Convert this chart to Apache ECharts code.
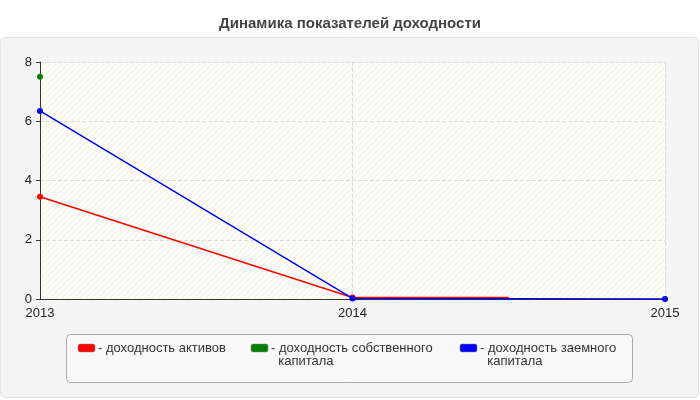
<!DOCTYPE html>
<html>
<head>
<meta charset="utf-8">
<script src="https://cdn.jsdelivr.net/npm/echarts@6/dist/echarts.min.js"></script>
<style>
  html, body { margin: 0; padding: 0; background: #fff; }
  #chart { width: 700px; height: 400px; }
</style>
</head>
<body>
<div id="chart"></div>
<script>
// data
const years = [2013, 2014, 2015];
const assetsYield = [[2013, 3.45], [2014, 0.05], [2014.5, 0.05]];
const equityYield = [[2013, 7.5]];
const debtYield = [[2013, 6.35], [2014, 0.02], [2015, 0.0]];
const seriesNames = [
    'доходность активов',
    'доходность собственного\nкапитала',
    'доходность заемного\nкапитала'
];
const seriesColors = ['#ff0000', '#008000', '#0000ff'];

// faint diagonal hatch for the plot background
function makeHatch() {
    const c = document.createElement('canvas');
    c.width = 6;
    c.height = 6;
    const ctx = c.getContext('2d');
    ctx.fillStyle = '#fdfdf8';
    ctx.fillRect(0, 0, 6, 6);
    ctx.strokeStyle = '#f1f1ec';
    ctx.lineWidth = 1;
    ctx.beginPath();
    ctx.moveTo(0, 6);
    ctx.lineTo(6, 0);
    ctx.stroke();
    return c;
}

// the legend is drawn by hand: the swatch sits on the first text line
const legendSlots = [78, 251, 460];
function legendItems() {
    const out = [];
    seriesNames.forEach((name, i) => {
        const x = legendSlots[i];
        out.push({
            type: 'rect',
            shape: { x: x, y: 344, width: 17, height: 8, r: 2 },
            style: { fill: seriesColors[i], stroke: '#888', lineWidth: 0.5 }
        });
        out.push({
            type: 'text',
            x: x + 20,
            y: 342,
            style: {
                text: '- ' + name.replace('\n', '\n  '),
                font: '13px "Liberation Sans"',
                fill: '#333',
                lineHeight: 13,
                verticalAlign: 'top'
            }
        });
    });
    return out;
}

const chart = echarts.init(document.getElementById('chart'));

// last red point has no marker in the reference
assetsYield[2] = { value: assetsYield[2], symbolSize: 0 };

const option = {
    animation: false,
    backgroundColor: '#fff',
    textStyle: { fontFamily: 'Liberation Sans' },
    title: {
        text: 'Динамика показателей доходности',
        left: 'center',
        top: 11,
        textStyle: { fontSize: 15, fontWeight: 'bold', color: '#444' }
    },
    graphic: [
        {
            type: 'rect',
            shape: { x: 0.5, y: 37.5, width: 698, height: 360, r: 4 },
            style: { fill: '#f4f4f4', stroke: '#e4e4e4' },
            z: -10
        },
        {
            type: 'rect',
            shape: { x: 66.5, y: 334.5, width: 566, height: 48, r: 4 },
            style: { fill: '#f8f8f8', stroke: '#a8a8a8' },
            z: -5
        }
    ].concat(legendItems()),
    grid: {
        left: 40,
        right: 35,
        top: 62,
        bottom: 101,
        show: true,
        borderWidth: 0,
        backgroundColor: { image: makeHatch(), repeat: 'repeat' }
    },
    xAxis: {
        type: 'value',
        min: years[0],
        max: years[years.length - 1],
        interval: 1,
        axisLine: { lineStyle: { color: '#333' } },
        axisTick: { show: false },
        axisLabel: {
            color: '#222',
            fontSize: 13,
            margin: 8,
            formatter: v => String(v)
        },
        splitLine: { lineStyle: { color: '#dcdcdc', type: 'dashed' } }
    },
    yAxis: {
        type: 'value',
        min: 0,
        max: 8,
        interval: 2,
        axisLine: { show: true, lineStyle: { color: '#333' } },
        axisTick: { show: true, length: 4, lineStyle: { color: '#333' } },
        axisLabel: { color: '#222', fontSize: 13, margin: 8 },
        splitLine: { lineStyle: { color: '#dcdcdc', type: 'dashed' } }
    },
    series: [
        {
            name: seriesNames[0],
            type: 'line',
            data: assetsYield,
            symbol: 'circle',
            symbolSize: 6,
            color: seriesColors[0],
            lineStyle: { width: 1.5 },
            z: 3
        },
        {
            name: seriesNames[1],
            type: 'line',
            data: equityYield,
            symbol: 'circle',
            symbolSize: 6,
            color: seriesColors[1],
            lineStyle: { width: 1.5 },
            z: 3
        },
        {
            name: seriesNames[2],
            type: 'line',
            data: debtYield,
            symbol: 'circle',
            symbolSize: 6,
            color: seriesColors[2],
            lineStyle: { width: 1.5 },
            z: 4
        }
    ]
};

chart.setOption(option);
</script>
</body>
</html>
